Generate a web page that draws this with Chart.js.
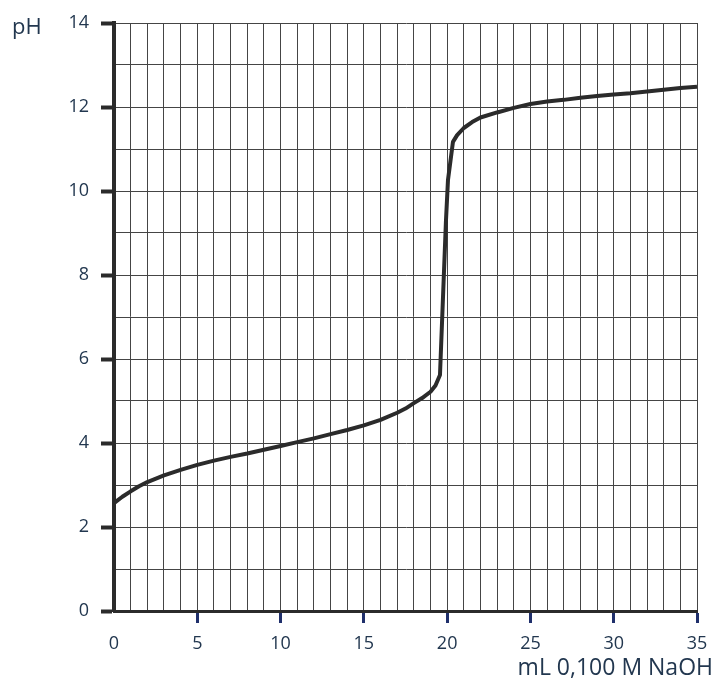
<!DOCTYPE html>
<html>
<head>
<meta charset="utf-8">
<script src="https://cdn.jsdelivr.net/npm/chart.js@4"></script>
<style>
  html, body { margin: 0; padding: 0; background: #fff; }
  #wrap { width: 715px; height: 681px; }
</style>
</head>
<body>
<div id="wrap"><canvas id="c"></canvas></div>
<script>
// titration curve
const volumeMl = [0, 0.5, 1, 1.5, 2, 3, 4, 5, 6, 7, 8, 9, 10, 11, 12, 13, 14, 15, 16, 17, 17.5, 18, 18.5, 19, 19.3, 19.57,
  19.93, 20.05, 20.35, 20.6, 21, 21.5, 22, 23, 24, 25, 26, 27, 28, 29, 30, 31, 32, 33, 34, 35];
const phValues = [2.57, 2.72, 2.85, 2.97, 3.07, 3.23, 3.36, 3.48, 3.58, 3.67, 3.75, 3.84, 3.93, 4.02, 4.11, 4.21, 4.31, 4.42, 4.55, 4.72, 4.82, 4.95, 5.07, 5.22, 5.37, 5.62,
  9.3, 10.26, 11.17, 11.33, 11.5, 11.64, 11.75, 11.87, 11.98, 12.07, 12.13, 12.17, 12.22, 12.26, 12.3, 12.33, 12.37, 12.41, 12.45, 12.48];

const xLabelEvery = 5;
const yLabelEvery = 2;
const xTitle = 'mL 0,100 M NaOH';
const yTitle = 'pH';

const labelColor = '#22374f';
const tickFont = { family: 'Open Sans', size: 18 };

// axis titles sit outside the plot, top-left and bottom-right
const axisTitles = {
  id: 'axisTitles',
  afterDraw(chart) {
    const ctx = chart.ctx;
    ctx.save();
    ctx.fillStyle = labelColor;
    ctx.textBaseline = 'alphabetic';
    ctx.font = '22px "Open Sans"';
    ctx.textAlign = 'left';
    ctx.fillText(yTitle, 12, 34);
    ctx.font = '23px "Open Sans"';
    ctx.textAlign = 'right';
    ctx.fillText(xTitle, 713, 675);
    ctx.restore();
  }
};

new Chart(document.getElementById('c'), {
  type: 'line',
  data: {
    datasets: [{
      data: volumeMl.map((v, i) => ({ x: v, y: phValues[i] })),
      borderColor: '#2b2b2b',
      borderWidth: 4,
      borderJoinStyle: 'round',
      pointRadius: 0,
      tension: 0,
      fill: false
    }]
  },
  options: {
    responsive: true,
    maintainAspectRatio: false,
    animation: false,
    events: [],
    layout: { padding: { top: 23, right: 18, left: 0, bottom: 0 } },
    plugins: { legend: { display: false }, tooltip: { enabled: false } },
    scales: {
      x: {
        type: 'linear',
        min: 0, max: 35,
        afterFit(scale) {
          scale.height = 70;
          scale.paddingLeft = 0;
          scale.paddingRight = 0;
        },
        border: { color: '#2b2b2b', width: 3 },
        grid: {
          color: '#454545',
          lineWidth: 1,
          drawTicks: true,
          tickLength: 12,
          tickWidth: 3,
          tickColor: (c) => (c.tick && c.tick.value % xLabelEvery === 0 && c.tick.value !== 0) ? '#1f2f6b' : 'rgba(0,0,0,0)'
        },
        ticks: {
          stepSize: 1,
          autoSkip: false,
          maxRotation: 0,
          padding: 10,
          color: labelColor,
          font: tickFont,
          callback: (v) => v % xLabelEvery === 0 ? String(v) : ''
        }
      },
      y: {
        min: 0, max: 14,
        afterFit(scale) {
          scale.width = 114;
          scale.paddingTop = 0;
          scale.paddingBottom = 0;
        },
        border: { color: '#2b2b2b', width: 4 },
        grid: {
          color: '#454545',
          lineWidth: 1,
          drawTicks: true,
          tickLength: 13,
          tickWidth: 4,
          tickColor: (c) => (c.tick && c.tick.value % yLabelEvery === 0) ? '#2b2b2b' : 'rgba(0,0,0,0)'
        },
        ticks: {
          stepSize: 1,
          autoSkip: false,
          padding: 12,
          color: labelColor,
          font: tickFont,
          callback: (v) => v % yLabelEvery === 0 ? String(v) : ''
        }
      }
    }
  },
  plugins: [axisTitles]
});
</script>
</body>
</html>
